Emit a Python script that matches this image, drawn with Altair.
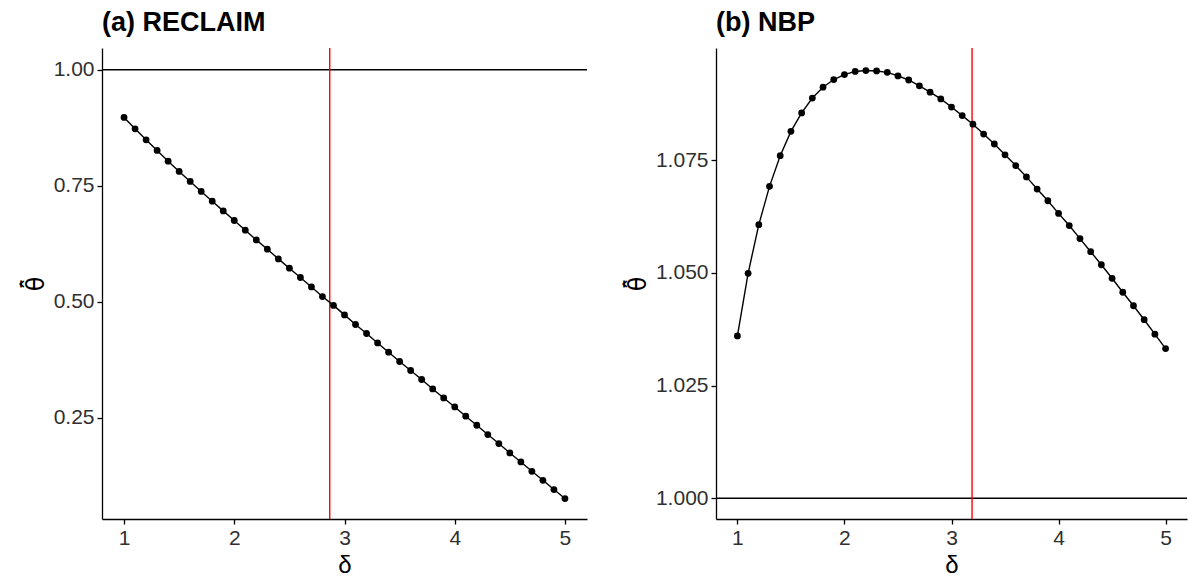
import altair as alt
import pandas as pd

delta = [round(1 + 0.1 * i, 1) for i in range(41)]

theta_reclaim = [0.8974, 0.8728, 0.8491, 0.8263, 0.8032, 0.7810, 0.7595, 0.7379, 0.7170, 0.6961,
                 0.6754, 0.6545, 0.6336, 0.6136, 0.5927, 0.5726, 0.5526, 0.5323, 0.5116, 0.4925,
                 0.4720, 0.4513, 0.4319, 0.4116, 0.3916, 0.3716, 0.3522, 0.3328, 0.3125, 0.2931,
                 0.2737, 0.2537, 0.2343, 0.2142, 0.1948, 0.1746, 0.1552, 0.1351, 0.1157, 0.0957,
                 0.0763]

theta_nbp = [1.0360, 1.0499, 1.0607, 1.0692, 1.0760, 1.0814, 1.0855, 1.0888, 1.0912, 1.0929,
             1.0940, 1.0947, 1.0949, 1.0948, 1.0945, 1.0937, 1.0928, 1.0915, 1.0901, 1.0886,
             1.0868, 1.0849, 1.0830, 1.0808, 1.0786, 1.0762, 1.0738, 1.0713, 1.0686, 1.0660,
             1.0632, 1.0605, 1.0576, 1.0547, 1.0518, 1.0488, 1.0457, 1.0427, 1.0396, 1.0364,
             1.0332]

titles = ["(a) RECLAIM", "(b) NBP"]
vlines = [2.866, 3.192]
hline_value = 1.0
y_domains = [[0.0323, 1.047], [0.99538, 1.0999]]
y_ticks = [[0.25, 0.50, 0.75, 1.00], [1.000, 1.025, 1.050, 1.075]]
y_formats = [".2f", ".3f"]
widths = [485, 471]

FONT = "Liberation Sans"
YTITLE = "\u03b8\u0304\u0302"


def panel(values, idx):
    df = pd.DataFrame({"delta": delta, "theta": values})
    x = alt.X("delta:Q", title="\u03b4",
              scale=alt.Scale(domain=[0.8, 5.2], nice=False, zero=False),
              axis=alt.Axis(values=[1, 2, 3, 4, 5], format="d"))
    y = alt.Y("theta:Q", title=YTITLE,
              scale=alt.Scale(domain=y_domains[idx], nice=False, zero=False),
              axis=alt.Axis(values=y_ticks[idx], format=y_formats[idx]))
    base = alt.Chart(df)
    line = base.mark_line(color="black", strokeWidth=1.4).encode(x=x, y=y)
    pts = base.mark_circle(color="black", opacity=1, size=46).encode(x="delta:Q", y="theta:Q")
    h = alt.Chart(pd.DataFrame({"h": [hline_value]})).mark_rule(color="black", strokeWidth=1.4).encode(y="h:Q")
    v = alt.Chart(pd.DataFrame({"v": [vlines[idx]]})).mark_rule(color="#FF0000", strokeWidth=1.4).encode(x="v:Q")
    return alt.layer(h, v, line, pts).properties(
        width=widths[idx], height=471,
        title=alt.TitleParams(titles[idx], anchor="start", frame="group", fontSize=27,
                              fontWeight="bold", font=FONT, color="black", offset=10),
    )


chart = alt.hconcat(panel(theta_reclaim, 0), panel(theta_nbp, 1), spacing=38).properties(
    padding={"left": 24, "top": 9, "right": 0, "bottom": 0}
).configure_view(stroke=None).configure_axis(
    grid=False, domainColor="black", domainWidth=1.3, tickColor="black", tickWidth=1.3,
    tickSize=5, labelFont=FONT, labelFontSize=21, labelColor="#303030", labelPadding=3,
    titleFont=FONT, titleFontSize=24, titleFontWeight="normal", titleColor="black",
).configure_axisY(titlePadding=5, titleFont="DejaVu Sans").configure_axisX(titlePadding=5)

chart.save("out.html", embed_options={"renderer": "svg", "actions": False})
